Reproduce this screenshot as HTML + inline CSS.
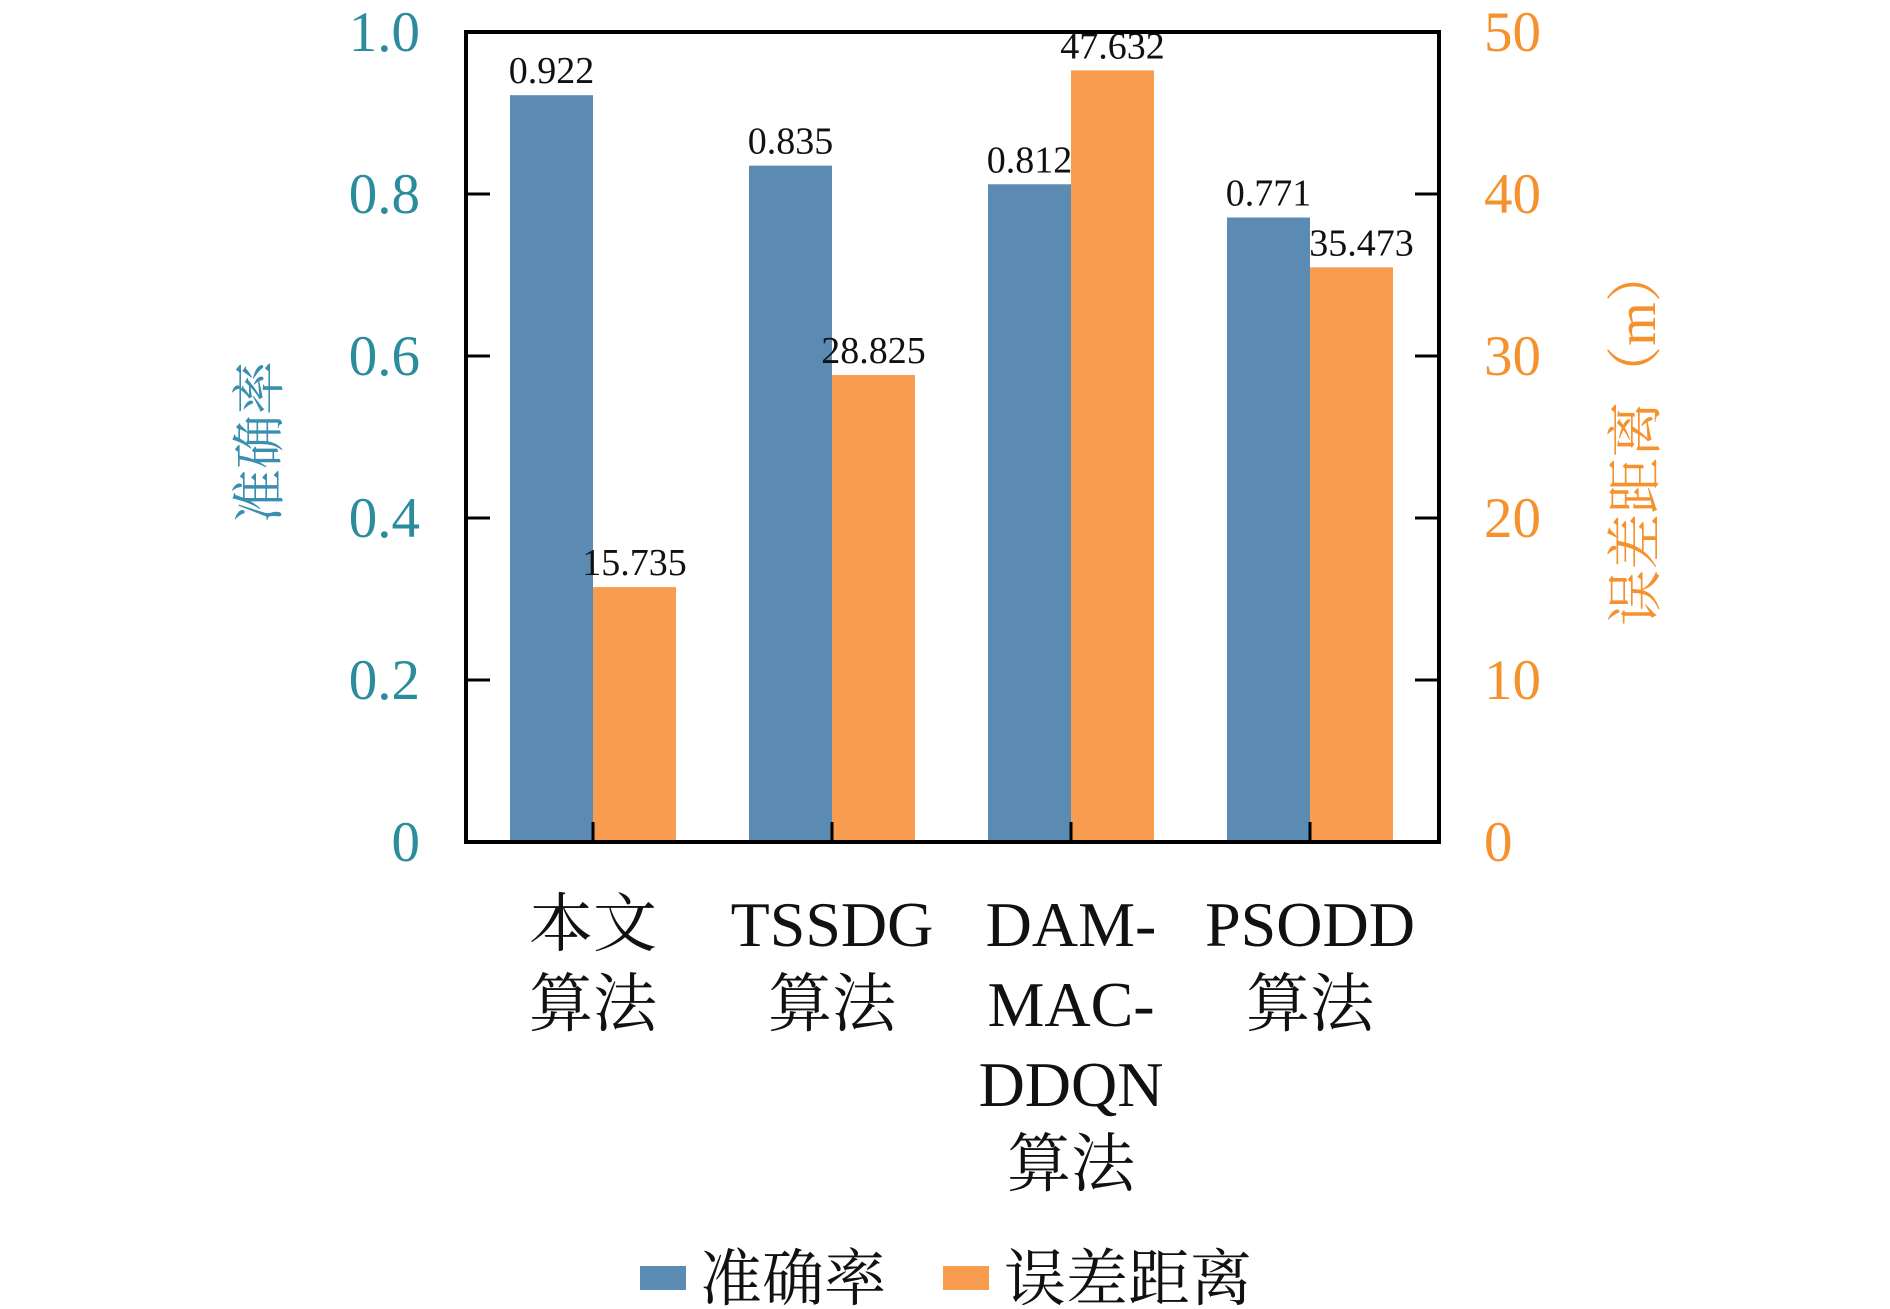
<!DOCTYPE html>
<html><head><meta charset="utf-8"><style>
body{margin:0;background:#fff}
svg{display:block}
text{font-family:"Liberation Serif","Noto Serif CJK SC",serif}
</style></head><body>
<svg id="chart" width="1890" height="1309" viewBox="0 0 1890 1309" xmlns="http://www.w3.org/2000/svg"></svg>
<script>
const categories = [["本文","算法"],["TSSDG","算法"],["DAM-","MAC-","DDQN","算法"],["PSODD","算法"]];
const accuracy = [0.922,0.835,0.812,0.771];
const errorDist = [15.735,28.825,47.632,35.473];
const leftTicks = [0,0.2,0.4,0.6,0.8,1.0];
const leftTickLabels = ["0","0.2","0.4","0.6","0.8","1.0"];
const rightTicks = [0,10,20,30,40,50];

const svg = document.getElementById('chart');
const NS = 'http://www.w3.org/2000/svg';
const L=466,R=1439,T=32,B=842;
const yL = v => B - (v/1.0)*(B-T);
const yR = v => B - (v/50)*(B-T);
const gx = i => L + 127 + i*239;
const BW = 83;
function mk(tag, attrs, parent){const e=document.createElementNS(NS,tag);for(const k in attrs)e.setAttribute(k,attrs[k]);(parent||svg).appendChild(e);return e;}

accuracy.forEach((v,i)=>{
  const r=mk('rect',{x:gx(i)-BW,y:yL(v),width:BW,height:B-yL(v),fill:'#5b8bb3'});
  
  
  const t=mk('text',{x:gx(i)-BW/2,y:yL(v)-12,'text-anchor':'middle','font-size':38,fill:'#111'});
  t.textContent=v.toFixed(3);
  
  
});
errorDist.forEach((v,i)=>{
  const r=mk('rect',{x:gx(i),y:yR(v),width:BW,height:B-yR(v),fill:'#f89c50'});
  
  
  const t=mk('text',{x:gx(i)+BW/2+(i==3?10:0),y:yR(v)-12,'text-anchor':'middle','font-size':38,fill:'#111'});
  t.textContent=v.toFixed(3);
  
  
});

const fr=mk('rect',{x:L,y:T,width:R-L,height:B-T,fill:'none',stroke:'#000','stroke-width':4});



leftTicks.forEach((v,i)=>{
  mk('line',{x1:L,x2:L+24,y1:yL(v),y2:yL(v),stroke:'#000','stroke-width':3});
  const t=mk('text',{x:420,y:yL(v)+19,'text-anchor':'end','font-size':57,fill:'#2a8c9c'});
  t.textContent=leftTickLabels[i];
  
  
});
rightTicks.forEach(v=>{
  mk('line',{x1:R-24,x2:R,y1:yR(v),y2:yR(v),stroke:'#000','stroke-width':3});
  const t=mk('text',{x:1484,y:yR(v)+19,'text-anchor':'start','font-size':57,fill:'#f5922e'});
  t.textContent=String(v);
  
  
});
categories.forEach((c,i)=>{
  mk('line',{x1:gx(i),x2:gx(i),y1:B,y2:B-20,stroke:'#000','stroke-width':3});
  c.forEach((ln,j)=>{
    const t=mk('text',{x:gx(i),y:946+j*80,'text-anchor':'middle','font-size':64,fill:'#111'});
    t.textContent=ln;
    
    
  });
});

const yt=mk('text',{x:0,y:0,transform:'translate(278,442) rotate(-90)','text-anchor':'middle','font-size':54,fill:'#3a8fb0'});
yt.textContent='准确率';


const yt2=mk('text',{x:0,y:0,transform:'translate(1655,436) rotate(-90)','text-anchor':'middle','font-size':56,fill:'#f5922e'});
yt2.textContent='误差距离（m）';



const s1=mk('rect',{x:640,y:1266,width:46,height:24,fill:'#5b8bb3'});


const l1=mk('text',{x:700,y:1300,'font-size':62,fill:'#111'});
l1.textContent='准确率';


const s2=mk('rect',{x:943,y:1266,width:46,height:24,fill:'#f89c50'});


const l2=mk('text',{x:1004,y:1300,'font-size':62,fill:'#111'});
l2.textContent='误差距离';


</script>
</body></html>
